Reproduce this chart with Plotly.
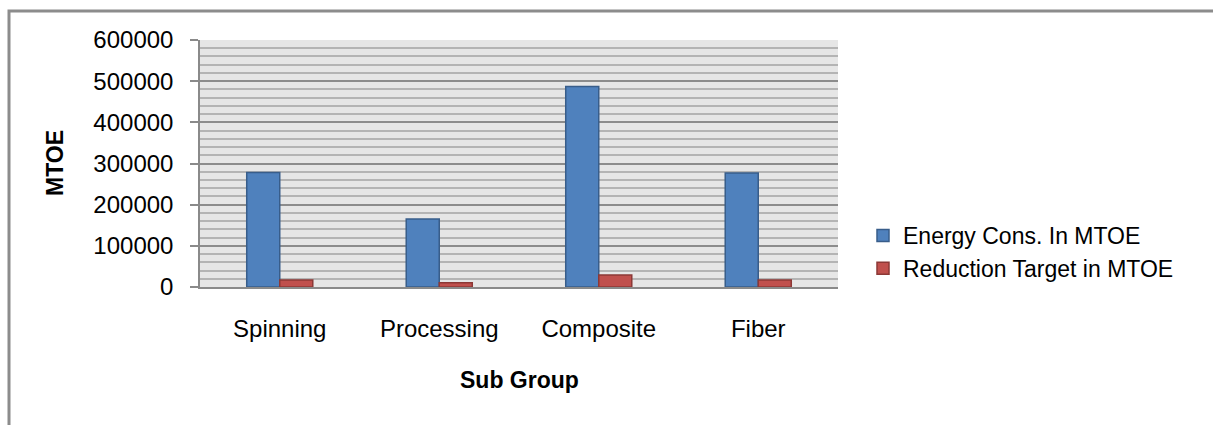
import plotly.graph_objects as go

categories = ["Spinning", "Processing", "Composite", "Fiber"]
energy_cons = [278000, 165000, 487000, 277000]
reduction_target = [17000, 10500, 29000, 17000]
y_ticks = [0, 100000, 200000, 300000, 400000, 500000, 600000]

W, H = 1213, 425
L, R, T, B = 200, 1213 - 838, 40, 425 - 287
pw, ph = W - L - R, H - T - B

def px_x(x):
    return (x - L) / pw

def px_y(y):
    return (H - B - y) / ph

font = "Liberation Sans"

fig = go.Figure()
fig.add_bar(name="Energy Cons. In MTOE", x=categories, y=energy_cons,
            marker=dict(color="#4f81bd", line=dict(color="#385d8a", width=1.5)))
fig.add_bar(name="Reduction Target in MTOE", x=categories, y=reduction_target,
            marker=dict(color="#c0504d", line=dict(color="#8c3836", width=1.5)))

fig.update_layout(
    width=W, height=H,
    margin=dict(l=L, r=R, t=T, b=B, pad=0),
    paper_bgcolor="white", plot_bgcolor="#e6e6e6",
    barmode="group", bargap=0.586, bargroupgap=0,
    font=dict(family=font, size=24, color="black"),
    showlegend=True,
    legend=dict(x=px_x(863), y=px_y(252), xanchor="left", yanchor="middle",
                font=dict(size=23), tracegroupgap=4, bgcolor="rgba(0,0,0,0)"),
    xaxis=dict(showline=True, linecolor="#8a8a8a", linewidth=2, ticks="",
               showgrid=False, ticklabelstandoff=19, tickfont=dict(size=24)),
    yaxis=dict(range=[0, 600000], tickvals=y_ticks, ticktext=[str(v) for v in y_ticks],
               showline=True, linecolor="#8a8a8a", linewidth=1.5,
               ticks="outside", ticklen=8, tickcolor="#8a8a8a", tickwidth=1.5,
               showgrid=True, gridcolor="#8c8c8c", gridwidth=1.5,
               minor=dict(dtick=20000, showgrid=True, gridcolor="#b4b4b4", gridwidth=1.6, ticks=""),
               zeroline=False, ticklabelstandoff=12, tickfont=dict(size=24)),
    annotations=[
        dict(text="<b>MTOE</b>", textangle=-90, x=px_x(55), y=px_y(163), xref="paper", yref="paper",
             showarrow=False, font=dict(size=23, family=font), xanchor="center", yanchor="middle"),
        dict(text="<b>Sub Group</b>", x=px_x(519), y=px_y(380), xref="paper", yref="paper",
             showarrow=False, font=dict(size=23, family=font), xanchor="center", yanchor="middle"),
    ],
    shapes=[
        dict(type="rect", xref="paper", yref="paper", x0=px_x(9), y0=px_y(460), x1=px_x(1260), y1=px_y(11),
             line=dict(color="#8c8c8c", width=3), fillcolor="rgba(0,0,0,0)", layer="below"),
    ],
)

fig.write_html("out.html", config={"displayModeBar": False},
               post_script="document.body.style.margin='0';")
